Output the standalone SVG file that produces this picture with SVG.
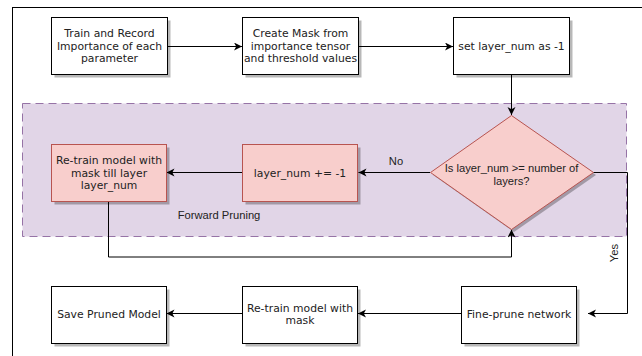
<svg xmlns="http://www.w3.org/2000/svg" width="642" height="356" viewBox="0 0 642 356">
  <defs>
    <marker id="arrow" markerWidth="10" markerHeight="10" refX="8" refY="4" orient="auto" markerUnits="userSpaceOnUse">
      <path d="M0,0 L8,4 L0,8 L2.2,4 Z" fill="#000"/>
    </marker>
  </defs>
  <style>
    .box { fill: #ffffff; stroke: #000000; stroke-width: 1; }
    .pink { fill: #f8cecc; stroke: #b85450; stroke-width: 1; }
    .shadow { fill: #000000; opacity: 0.28; }
    .group { fill: #e1d5e7; stroke: #9673a6; stroke-width: 1; stroke-dasharray: 8 5; }
    .t { font-family: "DejaVu Sans", Verdana, sans-serif; font-size: 10.8px; fill: #222; text-anchor: middle; }
    .a { font-family: "Liberation Sans", Arial, sans-serif; font-size: 11.2px; fill: #222; text-anchor: middle; }
    .edge { fill: none; stroke: #000; stroke-width: 1; }
  </style>

  <rect width="642" height="356" fill="#ffffff"/>

  <!-- outer frame, running off the right and bottom edges -->
  <rect x="12.5" y="7.5" width="700" height="400" fill="none" stroke="#000" stroke-width="1"/>

  <!-- forward pruning container -->
  <g id="forward-pruning">
    <rect class="group" x="22.5" y="103.5" width="604" height="133"/>
    <text class="a" x="219" y="219">Forward Pruning</text>
  </g>

  <!-- connectors -->
  <g id="connectors">
    <path class="edge" d="M166.5,46.5 H242" marker-end="url(#arrow)"/>
    <path class="edge" d="M358.5,46.5 H453" marker-end="url(#arrow)"/>
    <path class="edge" d="M511.5,74.5 V115" marker-end="url(#arrow)"/>
    <path class="edge" d="M430,172.5 H358.5" marker-end="url(#arrow)"/>
    <path class="edge" d="M242.5,172.5 H166.5" marker-end="url(#arrow)"/>
    <path class="edge" d="M108.5,201.5 V257 H511.5 V229.5" marker-end="url(#arrow)"/>
    <path class="edge" d="M593,172.5 H627.5 V313.5 H588" marker-end="url(#arrow)"/>
    <path class="edge" d="M461.5,313.5 H358" marker-end="url(#arrow)"/>
    <path class="edge" d="M242.5,313.5 H166.5" marker-end="url(#arrow)"/>
    <text class="a" x="396" y="165">No</text>
    <text class="a" x="0" y="0" transform="translate(618,253) rotate(-90)">Yes</text>
  </g>

  <g id="train-record">
    <rect class="shadow" x="54.5" y="20.5" width="116" height="57"/>
    <rect class="box" x="51.5" y="17.5" width="116" height="57"/>
    <text class="t" x="109.5" y="37">Train and Record</text>
    <text class="t" x="109.5" y="49.5">Importance of each</text>
    <text class="t" x="109.5" y="62">parameter</text>
  </g>

  <g id="create-mask">
    <rect class="shadow" x="245.5" y="20.5" width="116" height="57"/>
    <rect class="box" x="242.5" y="17.5" width="116" height="57"/>
    <text class="t" x="300.5" y="37">Create Mask from</text>
    <text class="t" x="300.5" y="49.5">importance tensor</text>
    <text class="t" x="300.5" y="62">and threshold values</text>
  </g>

  <g id="set-layer">
    <rect class="shadow" x="456.5" y="20.5" width="116" height="57"/>
    <rect class="box" x="453.5" y="17.5" width="116" height="57"/>
    <text class="t" x="511.5" y="50">set layer_num as -1</text>
  </g>

  <g id="decision">
    <polygon class="shadow" points="514,118 596,175 514,232 433,175"/>
    <polygon class="pink" points="511.5,115.5 593.5,172.5 511.5,229.5 430.5,172.5"/>
    <text class="a" x="511.5" y="172">Is layer_num &gt;= number of</text>
    <text class="a" x="511.5" y="184.5">layers?</text>
  </g>

  <g id="decrement">
    <rect class="shadow" x="245.5" y="147.5" width="115" height="57"/>
    <rect class="pink" x="242.5" y="144.5" width="115" height="57"/>
    <text class="t" x="300" y="177">layer_num += -1</text>
  </g>

  <g id="retrain-till-layer">
    <rect class="shadow" x="54.5" y="147.5" width="115" height="57"/>
    <rect class="pink" x="51.5" y="144.5" width="115" height="57"/>
    <text class="t" x="109" y="164">Re-train model with</text>
    <text class="t" x="109" y="176.5">mask till layer</text>
    <text class="t" x="109" y="189">layer_num</text>
  </g>

  <g id="fine-prune">
    <rect class="shadow" x="464.5" y="289.5" width="115" height="57"/>
    <rect class="box" x="461.5" y="286.5" width="115" height="57"/>
    <text class="t" x="519" y="318">Fine-prune network</text>
  </g>

  <g id="retrain-mask">
    <rect class="shadow" x="245.5" y="289.5" width="115" height="57"/>
    <rect class="box" x="242.5" y="286.5" width="115" height="57"/>
    <text class="t" x="300" y="311.5">Re-train model with</text>
    <text class="t" x="300" y="324">mask</text>
  </g>

  <g id="save-model">
    <rect class="shadow" x="54.5" y="289.5" width="115" height="57"/>
    <rect class="box" x="51.5" y="286.5" width="115" height="57"/>
    <text class="t" x="109" y="318">Save Pruned Model</text>
  </g>
</svg>
